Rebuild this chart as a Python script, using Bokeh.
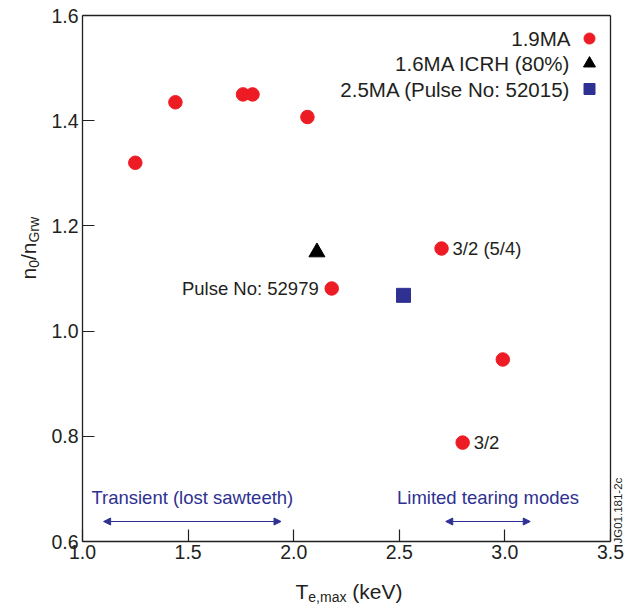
import math
from bokeh.plotting import figure
from bokeh.models import Range1d, Label, Arrow, NormalHead, FixedTicker, LinearAxis
from bokeh.embed import file_html
from bokeh.resources import INLINE

# ---------------- data ----------------
te_19ma = [1.25, 1.44, 1.76, 1.805, 2.065, 2.18, 2.70, 2.99, 2.80]
n_19ma = [1.32, 1.435, 1.45, 1.45, 1.407, 1.081, 1.157, 0.946, 0.788]
te_16ma = [2.11]
n_16ma = [1.15]
te_25ma = [2.52]
n_25ma = [1.068]

legend_labels = ["1.9MA", "1.6MA ICRH (80%)", "2.5MA (Pulse No: 52015)"]
point_notes = [("Pulse No: 52979", 5, "right"), ("3/2 (5/4)", 6, "left"), ("3/2", 8, "left")]
regions = [("Transient (lost sawteeth)", 1.10, 1.94), ("Limited tearing modes", 2.72, 3.12)]

x_ticks = [1.0, 1.5, 2.0, 2.5, 3.0, 3.5]
x_tick_labels = ["1.0", "1.5", "2.0", "2.5", "3.0", "3.5"]
y_ticks = [0.6, 0.8, 1.0, 1.2, 1.4, 1.6]
y_tick_labels = ["0.6", "0.8", "1.0", "1.2", "1.4", "1.6"]

# ---------------- style ----------------
FONT = "Liberation Sans"
TXT = "#231f20"
RED = "#ed1c24"
NAVY = "#2e3192"
XMIN, XMAX, YMIN, YMAX = 1.0, 3.5, 0.6, 1.6
W, H = 624, 608
L, R, T, B = 82, 610, 15, 541   # pixel box of the data area

# the frame fills the whole canvas; ranges are widened so that the
# data box [1.0, 3.5] x [0.6, 1.6] lands on the pixel box above
XR0 = XMIN - L / (R - L) * (XMAX - XMIN)
XR1 = XMAX + (W - R) / (R - L) * (XMAX - XMIN)
YR1 = YMAX + T / (B - T) * (YMAX - YMIN)
YR0 = YMIN - (H - B) / (B - T) * (YMAX - YMIN)


def xd(px):
    return XMIN + (px - L) / (R - L) * (XMAX - XMIN)


def yd(py):
    return YMAX - (py - T) / (B - T) * (YMAX - YMIN)


p = figure(width=W, height=H, output_backend="svg", toolbar_location=None,
           x_range=Range1d(XR0, XR1), y_range=Range1d(YR0, YR1),
           min_border=0, min_border_left=0, min_border_right=0,
           min_border_top=0, min_border_bottom=0)
p.title.visible = False
p.background_fill_color = "white"
p.border_fill_color = "white"
p.outline_line_color = None
p.xgrid.visible = False
p.ygrid.visible = False

p.xaxis.fixed_location = YMIN
p.xaxis.bounds = (XMIN, XMAX)
p.yaxis.fixed_location = XMIN
p.yaxis.bounds = (YMIN, YMAX)

for ax, ticks, labels in ((p.xaxis[0], x_ticks, x_tick_labels), (p.yaxis[0], y_ticks, y_tick_labels)):
    ax.ticker = FixedTicker(ticks=ticks)
    ax.major_label_overrides = {t: s for t, s in zip(ticks, labels)}
    ax.minor_tick_line_color = None
    ax.major_tick_in = 12
    ax.major_tick_out = 0
    ax.major_tick_line_color = TXT
    ax.major_tick_line_width = 1.2
    ax.axis_line_color = TXT
    ax.axis_line_width = 1.3
    ax.major_label_text_font = FONT
    ax.major_label_text_font_size = "19.5px"
    ax.major_label_text_color = TXT
p.xaxis.major_label_standoff = 3
p.yaxis.major_label_standoff = 4

# closing lines of the box (top and right), plain axes without ticks
top_ax = LinearAxis(fixed_location=YMAX, bounds=(XMIN, XMAX), ticker=FixedTicker(ticks=[]),
                    major_tick_line_color=None, minor_tick_line_color=None,
                    major_label_text_color=None, axis_line_color=TXT, axis_line_width=1.3)
right_ax = LinearAxis(fixed_location=XMAX, bounds=(YMIN, YMAX), ticker=FixedTicker(ticks=[]),
                      major_tick_line_color=None, minor_tick_line_color=None,
                      major_label_text_color=None, axis_line_color=TXT, axis_line_width=1.3)
p.add_layout(top_ax, "above")
p.add_layout(right_ax, "right")

# ---------------- data marks ----------------
p.scatter(te_19ma, n_19ma, marker="circle", size=13.5, fill_color=RED, line_color=RED)
p.scatter(te_16ma, n_16ma, marker="triangle", size=16, fill_color="black", line_color="black")
p.scatter(te_25ma, n_25ma, marker="square", size=14, fill_color=NAVY, line_color=NAVY)

# ---------------- legend (label left, marker right) ----------------
leg_y = [38, 63, 88.5]
leg_markers = [("circle", RED, 11), ("triangle", "black", 12), ("square", NAVY, 11)]
for lab, py, (mk, col, sz) in zip(legend_labels, leg_y, leg_markers):
    p.scatter([xd(589)], [yd(py)], marker=mk, size=sz, fill_color=col, line_color=col)
    p.add_layout(Label(x=xd(570), y=yd(py), text=lab, text_align="right",
                       text_baseline="middle", text_font=FONT,
                       text_font_size="20.5px", text_color=TXT))

# ---------------- point annotations ----------------
for txt, idx, align in point_notes:
    off = -13 if align == "right" else 11
    p.add_layout(Label(x=te_19ma[idx], y=n_19ma[idx], x_offset=off, text=txt,
                       text_align=align, text_baseline="middle", text_font=FONT,
                       text_font_size="18.5px", text_color=TXT))

# ---------------- regime arrows ----------------
for txt, x0, x1 in regions:
    p.add_layout(Arrow(x_start=x0, y_start=yd(521), x_end=x1, y_end=yd(521),
                       line_color=NAVY, line_width=1.2,
                       start=NormalHead(size=7, fill_color=NAVY, line_color=NAVY),
                       end=NormalHead(size=7, fill_color=NAVY, line_color=NAVY)))
    p.add_layout(Label(x=(x0 + x1) / 2, y=yd(497), text=txt, text_align="center",
                       text_baseline="middle", text_font=FONT,
                       text_font_size="18.5px", text_color=NAVY))


def plabel(px, py, txt, fs, angle=0.0, align="left", baseline="alphabetic"):
    p.add_layout(Label(x=xd(px), y=yd(py), text=txt, angle=angle, text_align=align,
                       text_baseline=baseline, text_font=FONT, text_font_size=fs,
                       text_color=TXT))


MAIN, SUB = 21, 14
# ---------------- axis titles with subscripts ----------------
# x title: T_{e,max} (keV)
parts = [("T", MAIN, 0), ("e,max", SUB, 5), ("(keV)", MAIN, 0)]
widths = [0.611 * MAIN, 2.723 * SUB + 0.278 * MAIN, 2.222 * MAIN]
cx = 295
for (txt, fs, dy), w in zip(parts, widths):
    plabel(cx, 591 + dy, txt, f"{fs}px")
    cx += w

# y title: n_0 / n_Grw, rotated
parts = [("n", MAIN, 0), ("0", SUB, 5), ("/", MAIN, 0), ("n", MAIN, 0), ("Grw", SUB, 5)]
widths = [0.556 * MAIN, 0.556 * SUB, 0.278 * MAIN, 0.556 * MAIN, 1.833 * SUB]
cy = 279
for (txt, fs, dx), w in zip(parts, widths):
    plabel(28 + dx, cy, txt, f"{fs}px", angle=math.pi / 2)
    cy -= w

# figure id, rotated at the right edge
plabel(611.5, 543, "JG01.181-2c", "11.5px", angle=math.pi / 2, baseline="top")

open("out.html", "w").write(file_html(p, INLINE))
